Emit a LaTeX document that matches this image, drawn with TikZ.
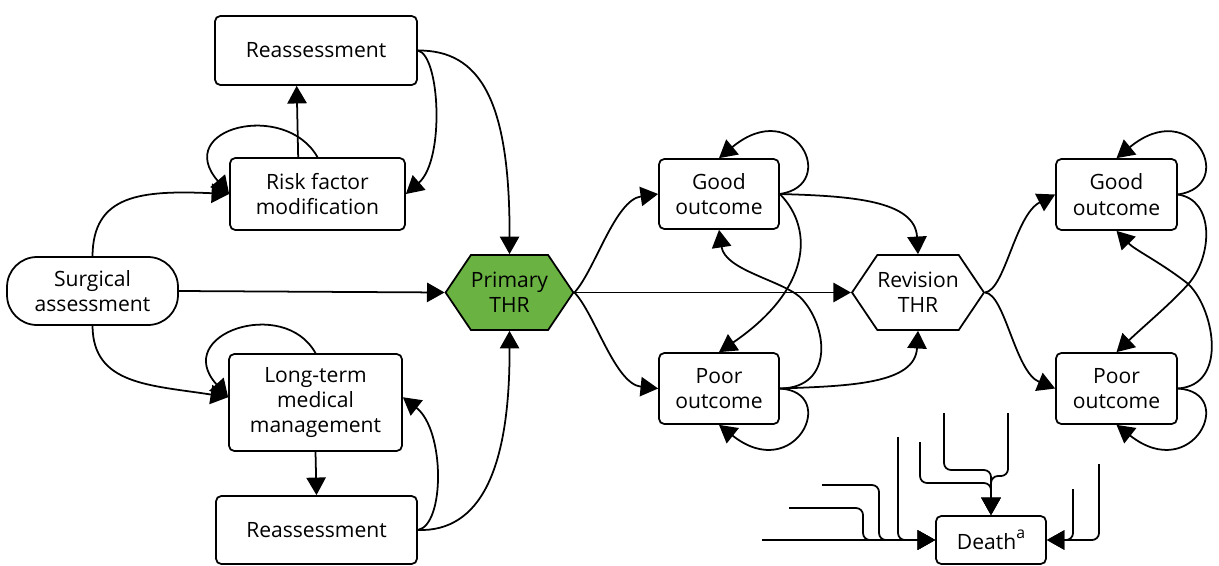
\documentclass[tikz,border=0pt]{standalone}
\usepackage{fontspec}
\setmainfont{Open Sans}
\usetikzlibrary{arrows.meta,shapes.symbols}
\definecolor{thrgreen}{RGB}{106,179,66}
\tikzset{
  box/.style={draw, rounded corners=3pt, line width=1pt, align=center, inner sep=2pt},
  hexa/.style={draw, shape=signal, signal to=east and west, signal pointer angle=112,
    line width=1pt, align=center, inner xsep=0pt, inner ysep=1pt, minimum height=1.5cm},
  arr/.style={-{Triangle[length=10pt,width=11pt]}, line width=1pt},
}

\begin{document}
\begin{tikzpicture}[x=0.02cm, y=-0.02cm, font=\fontsize{12}{14.5}\selectfont]
			\useasboundingbox (0,0) rectangle (1219,565);
			%%%%%%%%%%%%%%%%%%%%%%%%%%%%%%%%
			\node[box, minimum width=4.04cm, minimum height=1.38cm] (reassA) at (316,50.5) {Reassessment};
			\node[box, minimum width=3.5cm, minimum height=1.44cm] (risk) at (317.5,194) {Risk factor\\modification};
			\node[box, rounded corners=0.6cm, minimum width=3.42cm, minimum height=1.36cm] (surg) at (92.5,291) {Surgical\\assessment};
			\node[box, minimum width=3.46cm, minimum height=1.94cm] (longterm) at (315.5,402.5) {Long-term\\medical\\management};
			\node[box, minimum width=4.02cm, minimum height=1.36cm] (reassB) at (316.5,530) {Reassessment};
			\node[hexa, fill=thrgreen] (primary) at (509.5,292.5) {Primary\\THR};
			\node[hexa] (revision) at (918,292.5) {Revision\\THR};
			\node[box, minimum width=2.4cm, minimum height=1.4cm] (good1) at (719,194) {Good\\outcome};
			\node[box, minimum width=2.4cm, minimum height=1.42cm] (poor1) at (719,388.5) {Poor\\outcome};
			\node[box, minimum width=2.42cm, minimum height=1.42cm] (good2) at (1116.5,194.5) {Good\\outcome};
			\node[box, minimum width=2.42cm, minimum height=1.42cm] (poor2) at (1116.5,388.5) {Poor\\outcome};
			\node[box, minimum width=2.2cm, minimum height=0.96cm] (death) at (991,540) {Death\raisebox{0.5em}{\fontsize{9}{9}\selectfont a}};
			%%%%%%%%%%%%%%%%%%%%%%%%%%%%%%%%
			\draw[arr] (surg.east) -- (primary.west);
			\draw[arr] (surg.north) .. controls (93,195) and (140,190) .. (risk.west);
			\draw[arr] (surg.south) .. controls (93,385) and (150,385) .. ([yshift=3pt]longterm.west);
			\draw[arr] (risk.north) .. controls (285,100) and (172,128) .. (risk.west);
			\draw[arr] ([xshift=-11pt]risk.north) -- ([xshift=-11pt]reassA.south);
			\draw[arr] (reassA.east) .. controls (440,55) and (445,160) .. (risk.east);
			\draw[arr] (reassA.east) .. controls (480,50) and (510,100) .. (primary.north);
			\draw[arr] (longterm.north) .. controls (284,296) and (171,334) .. ([yshift=3pt]longterm.west);
			\draw[arr] (longterm.south) -- (reassB.north);
			\draw[arr] (reassB.east) .. controls (445,525) and (445,430) .. ([yshift=3pt]longterm.east);
			\draw[arr] (reassB.east) .. controls (480,532) and (510,470) .. (primary.south);
			%%%%%%%%%%%%%%%%%%%%%%%%%%%%%%%%
			\draw[arr] (primary.east) .. controls (595,270) and (615,200) .. (good1.west);
			\draw[arr] (primary.east) .. controls (595,314) and (615,384) .. (poor1.west);
			\draw[arr] (primary.east) -- (revision.west);
			\draw[arr] (good1.east) .. controls (840,185) and (795,95) .. (good1.north);
			\draw[arr] (poor1.east) .. controls (840,392) and (795,485) .. (poor1.south);
			\draw[arr] (good1.east) .. controls (815,230) and (810,290) .. (poor1.north);
			\draw[arr] (poor1.east) .. controls (835,388) and (828,325) .. (800,297)
			  .. controls (780,280) and (725,270) .. (good1.south);
			\draw[arr] (good1.east) .. controls (850,196) and (915,200) .. (revision.north);
			\draw[arr] (poor1.east) .. controls (850,386) and (915,384) .. (revision.south);
			%%%%%%%%%%%%%%%%%%%%%%%%%%%%%%%%
			\draw[arr] (revision.east) .. controls (1005,290) and (1015,215) .. (good2.west);
			\draw[arr] (revision.east) .. controls (1005,294) and (1015,372) .. (poor2.west);
			\draw[arr] (good2.east) .. controls (1238,186) and (1193,95) .. (good2.north);
			\draw[arr] (poor2.east) .. controls (1238,392) and (1193,485) .. (poor2.south);
			\draw[arr] (good2.east) .. controls (1215,200) and (1212,255) .. (1190,282)
			  .. controls (1175,300) and (1145,325) .. (poor2.north);
			\draw[arr] (poor2.east) .. controls (1230,385) and (1213,305) .. (1187,283)
			  .. controls (1160,262) and (1135,250) .. (good2.south);
			%%%%%%%%%%%%%%%%%%%%%%%%%%%%%%%%
			\coordinate (dA) at (762,540);
			\coordinate (dB) at (789,508);
			\coordinate (dC) at (822,485);
			\coordinate (dD) at (898,437);
			\coordinate (dE) at (920,442);
			\coordinate (dF) at (944,413);
			\coordinate (dG) at (1008,413);
			\coordinate (dH) at (1099,464);
			\coordinate (dI) at (1073,489);
			\draw[arr] (dA) -- (death.west);
			\draw[arr, rounded corners=4pt] (dB) -| (863,540) -- (death.west);
			\draw[arr, rounded corners=4pt] (dC) -| (879,540) -- (death.west);
			\draw[arr, rounded corners=4pt] (dD) |- (death.west);
			\draw[arr, rounded corners=4pt] (dE) |- (991,483) -- (death.north);
			\draw[arr, rounded corners=4pt] (dF) |- (991,470) -- (death.north);
			\draw[arr, rounded corners=4pt] (dG) |- (991,476) -- (death.north);
			\draw[arr, rounded corners=4pt] (dH) |- (death.east);
			\draw[arr, rounded corners=4pt] (dI) |- (death.east);
		\end{tikzpicture}
\end{document}
